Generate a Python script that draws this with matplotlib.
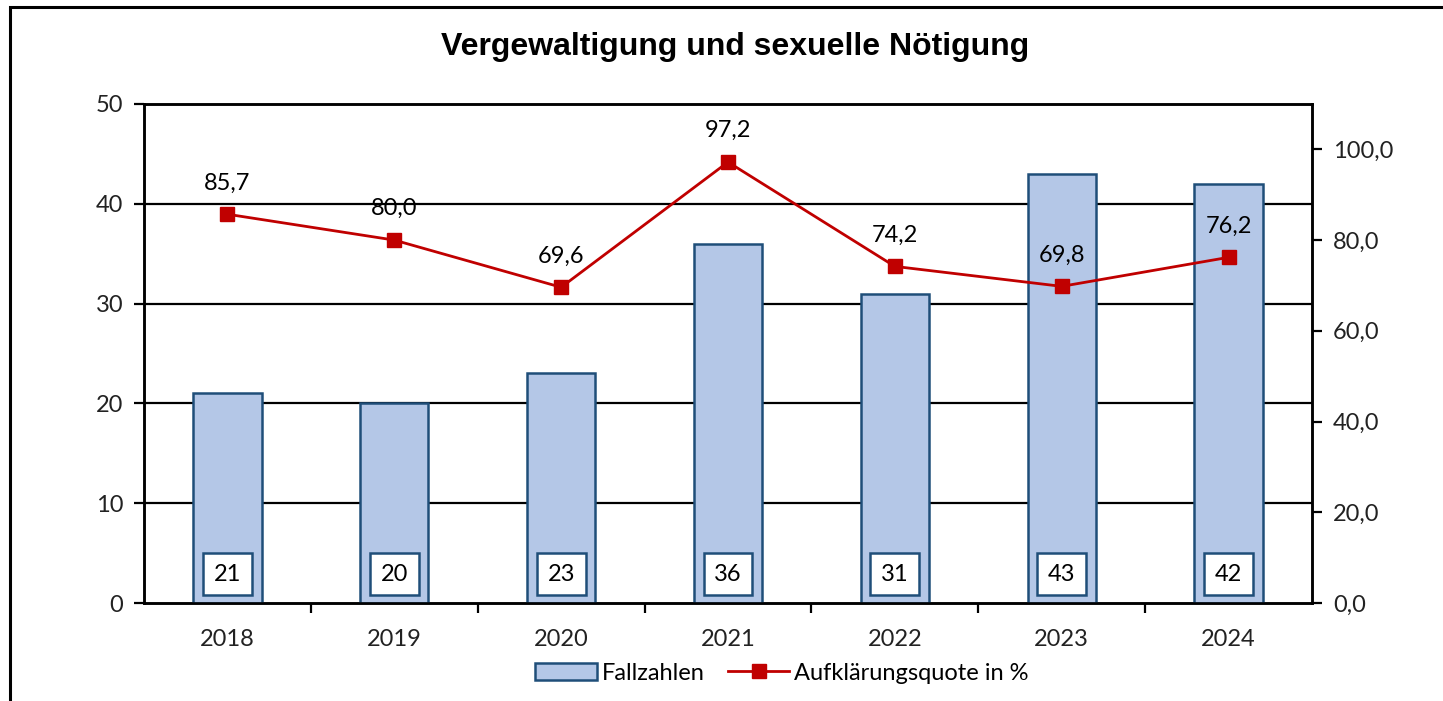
import matplotlib
matplotlib.use("Agg")
import matplotlib.pyplot as plt
from matplotlib.patches import Rectangle
from matplotlib.lines import Line2D
from matplotlib.patches import Patch

years = ["2018", "2019", "2020", "2021", "2022", "2023", "2024"]
fallzahlen = [21, 20, 23, 36, 31, 43, 42]
quote = [85.7, 80.0, 69.6, 97.2, 74.2, 69.8, 76.2]
left_ticks = [0, 10, 20, 30, 40, 50]
right_ticks = [0, 20, 40, 60, 80, 100]

FONT = ["Lato", "DejaVu Sans"]
FS = 17
BAR_FACE = "#B4C7E7"
BAR_EDGE = "#1F4E79"
RED = "#C00000"

fig = plt.figure(figsize=(14.43, 7.01), dpi=100)
fig.patch.set_facecolor("white")

# outer frame
fig.patches.append(Rectangle((10/1443, -0.1), 1.2, 1 - 7/701 + 0.1, transform=fig.transFigure,
                             fill=False, edgecolor="black", linewidth=2.2))

ax = fig.add_axes([144/1443, 1 - 603/701, (1312-144)/1443, (603-104)/701])
x = list(range(len(years)))
ax.bar(x, fallzahlen, width=0.41, color=BAR_FACE, edgecolor=BAR_EDGE, linewidth=1.8, zorder=3)
ax.set_ylim(0, 50)
ax.set_xlim(-0.5, len(years) - 0.5)
ax.set_yticks(left_ticks)
ax.set_yticklabels([str(t) for t in left_ticks], fontsize=FS, family=FONT, color="#222222")
for t in left_ticks[1:-1]:
    ax.axhline(t, color="black", linewidth=1.6, zorder=1)
ax.set_xticks(x)
ax.set_xticklabels(years, fontsize=FS, family=FONT, color="#222222")
ax.set_xticks([i + 0.5 for i in x[:-1]], minor=True)
ax.tick_params(axis="x", which="major", length=0, pad=19)
ax.tick_params(axis="x", which="minor", length=7, width=1.6, direction="out")
ax.tick_params(axis="y", length=7, width=1.6, direction="out", pad=8)
for s in ax.spines.values():
    s.set_linewidth(1.8)
    s.set_color("black")

for xi, v in zip(x, fallzahlen):
    ax.text(xi, 2.9, str(v), ha="center", va="center", fontsize=FS, family=FONT, color="black",
            zorder=5,
            bbox=dict(boxstyle="square,pad=0.45", facecolor="white", edgecolor=BAR_EDGE, linewidth=1.8))

ax2 = ax.twinx()
ax2.plot(x, quote, color=RED, linewidth=2, marker="s", markersize=10, zorder=4)
ax2.set_ylim(0, 110)
ax2.set_yticks(right_ticks)
ax2.set_yticklabels([f"{t:.1f}".replace(".", ",") for t in right_ticks], fontsize=FS, family=FONT,
                    color="#222222")
ax2.tick_params(axis="y", length=7, width=1.6, direction="out", pad=8)
for s in ax2.spines.values():
    s.set_linewidth(1.8)
for xi, v in zip(x, quote):
    ax2.annotate(f"{v:.1f}".replace(".", ","), (xi, v), xytext=(0, 15), textcoords="offset points",
                 ha="center", va="bottom", fontsize=FS, family=FONT, color="black")

fig.text(735/1443, 1 - 47/701, "Vergewaltigung und sexuelle Nötigung", ha="center", va="center",
         fontsize=23, fontweight="bold", family=["Liberation Sans", "DejaVu Sans"])

handles = [Patch(facecolor=BAR_FACE, edgecolor=BAR_EDGE, linewidth=1.8),
           Line2D([0], [0], color=RED, linewidth=2, marker="s", markersize=10)]
fig.legend(handles, ["Fallzahlen", "Aufklärungsquote in %"], loc="center",
           bbox_to_anchor=(782/1443, 1 - 673/701), ncol=2, frameon=False,
           prop={"family": FONT, "size": FS}, handlelength=2.6, handletextpad=0.2, columnspacing=1.0)

fig.savefig("out.png", dpi=100, facecolor="white")
